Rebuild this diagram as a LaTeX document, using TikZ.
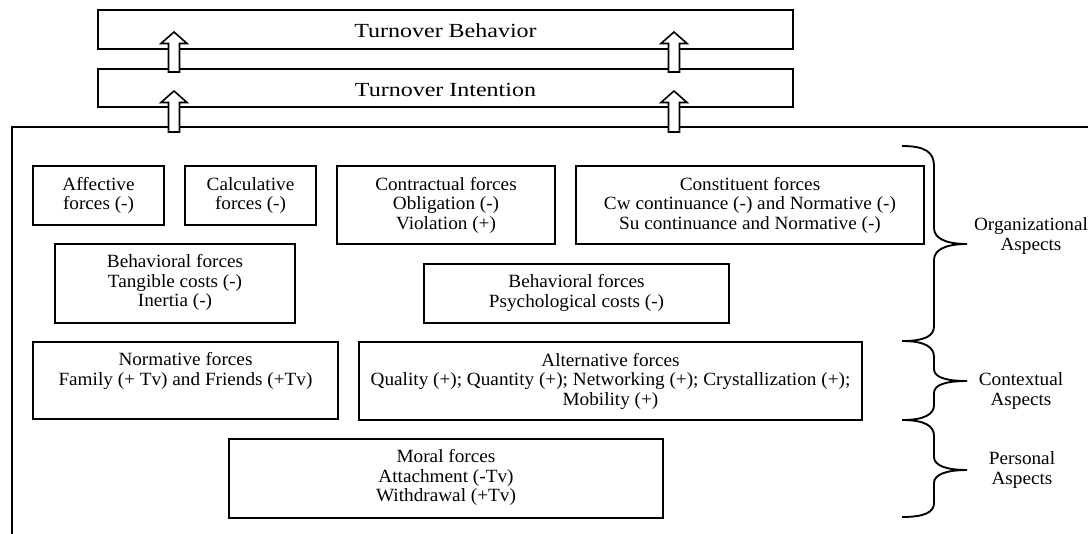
\documentclass[tikz,border=0pt]{standalone}
\usepackage{fontspec}
\setmainfont{Liberation Serif}[FakeStretch=1.03]
\newfontfamily\tfont{Liberation Serif}[FakeStretch=1.2]
\usetikzlibrary{fit,calc}
\tikzset{
  boxr/.style={draw, line width=1.4pt, inner sep=0pt, fit={#1}},
  txt/.style={anchor=base, align=center, inner sep=0pt, font=\fontsize{14}{14.8}\selectfont},
  ttxt/.style={anchor=base, inner sep=0pt, font=\tfont\fontsize{15}{18}\selectfont},
  side/.style={anchor=base, align=center, inner sep=0pt, font=\fontsize{14}{14.3}\selectfont},
  brc/.style={line width=1.4pt},
  blockarr/.style={draw, fill=white, line width=1.2pt, line join=miter},
  frame/.style={line width=1.2pt}
}
\newcommand\blockarrow[2]{%
  \draw[blockarr] let \p1=(#1), \p2=(#2) in
    (\x1-4.125pt,\y1) -- (\x1-4.125pt,\y2-8.6pt) -- (\x1-9.75pt,\y2-8.6pt) --
    (\x2,\y2) -- (\x1+9.75pt,\y2-8.6pt) -- (\x1+4.125pt,\y2-8.6pt) --
    (\x1+4.125pt,\y1) -- cycle;}
\begin{document}
\begin{tikzpicture}[x=0.75pt,y=-0.75pt]
\useasboundingbox (0,0) rectangle (1088,533);
% outer frame
\coordinate (fr) at (1100,127);
\coordinate (fc) at (12,127);
\coordinate (fb) at (12,545);
\draw[frame] (fr) -- (fc) -- (fb);
% turnover boxes
\node[boxr={(98,10)(793,49)}] (tb) {};
\node[ttxt] (tbT) at ($(tb.north)+(0,28)$) {Turnover Behavior};
\node[boxr={(98,69)(793,107)}] (ti) {};
\node[ttxt] (tiT) at ($(ti.north)+(0,28)$) {Turnover Intention};
% force boxes (anchor base = baseline of last line)
\node[boxr={(33,166)(164,225)}] (aff) {};
\node[txt] (affT) at ($(aff.north)+(0,44.7)$) {Affective\\forces (-)};
\node[boxr={(185,166)(316,225)}] (cal) {};
\node[txt] (calT) at ($(cal.north)+(0,44.7)$) {Calculative\\forces (-)};
\node[boxr={(337,166)(555,244)}] (con) {};
\node[txt] (conT) at ($(con.north)+(0,64.4)$) {Contractual forces\\Obligation (-)\\Violation (+)};
\node[boxr={(576,166)(924,244)}] (cst) {};
\node[txt] (cstT) at ($(cst.north)+(0,64.4)$) {Constituent forces\\Cw continuance (-) and Normative (-)\\Su continuance and Normative (-)};
\node[boxr={(55,244)(295,323)}] (beh1) {};
\node[txt] (beh1T) at ($(beh1.north)+(0,63.9)$) {Behavioral forces\\Tangible costs (-)\\Inertia (-)};
\node[boxr={(424,264)(729,323)}] (beh2) {};
\node[txt] (beh2T) at ($(beh2.north)+(0,44.2)$) {Behavioral forces\\Psychological costs (-)};
\node[boxr={(33,342)(338,419)}] (nor) {};
\node[txt] (norT) at ($(nor.north)+(0,44.2)$) {Normative forces\\Family (+ Tv) and Friends (+Tv)};
\node[boxr={(359,342)(862,420)}] (alt) {};
\node[txt] (altT) at ($(alt.north)+(0,64.4)$) {Alternative forces\\Quality (+); Quantity (+); Networking (+); Crystallization (+);\\Mobility (+)};
\node[boxr={(229,439)(663,518)}] (mor) {};
\node[txt] (morT) at ($(mor.north)+(0,63.9)$) {Moral forces\\Attachment (-Tv)\\Withdrawal (+Tv)};
% block arrows
\coordinate (a1b) at (174,72);  \coordinate (a1t) at (174,32);
\coordinate (a2b) at (674,72);  \coordinate (a2t) at (674,32);
\coordinate (a3b) at (174,132); \coordinate (a3t) at (174,91);
\coordinate (a4b) at (674,132); \coordinate (a4t) at (674,91);
\blockarrow{a1b}{a1t}
\blockarrow{a2b}{a2t}
\blockarrow{a3b}{a3t}
\blockarrow{a4b}{a4t}
% braces
\draw[brc] (902,146) .. controls (925,146) and (934,152) .. (934,166) -- (934,228)
  .. controls (934,238) and (945,244) .. (967,244)
  .. controls (945,244) and (934,250) .. (934,260) -- (934,326)
  .. controls (934,336) and (925,341) .. (902,341);
\draw[brc] (902,341) .. controls (925,341) and (934,347) .. (934,357) -- (934,369)
  .. controls (934,377) and (945,381) .. (967,381)
  .. controls (945,381) and (934,385) .. (934,393) -- (934,405)
  .. controls (934,414) and (925,420) .. (902,420);
\draw[brc] (902,420) .. controls (925,420) and (934,426) .. (934,436) -- (934,457)
  .. controls (934,465) and (945,470) .. (967,470)
  .. controls (945,470) and (934,475) .. (934,483) -- (934,503)
  .. controls (934,512) and (925,517) .. (902,517);
% side labels
\node[side] (org) at (1031,250) {Organizational\\Aspects};
\node[side] (ctx) at (1021,405) {Contextual\\Aspects};
\node[side] (per) at (1022,484) {Personal\\Aspects};
\end{tikzpicture}
\end{document}
